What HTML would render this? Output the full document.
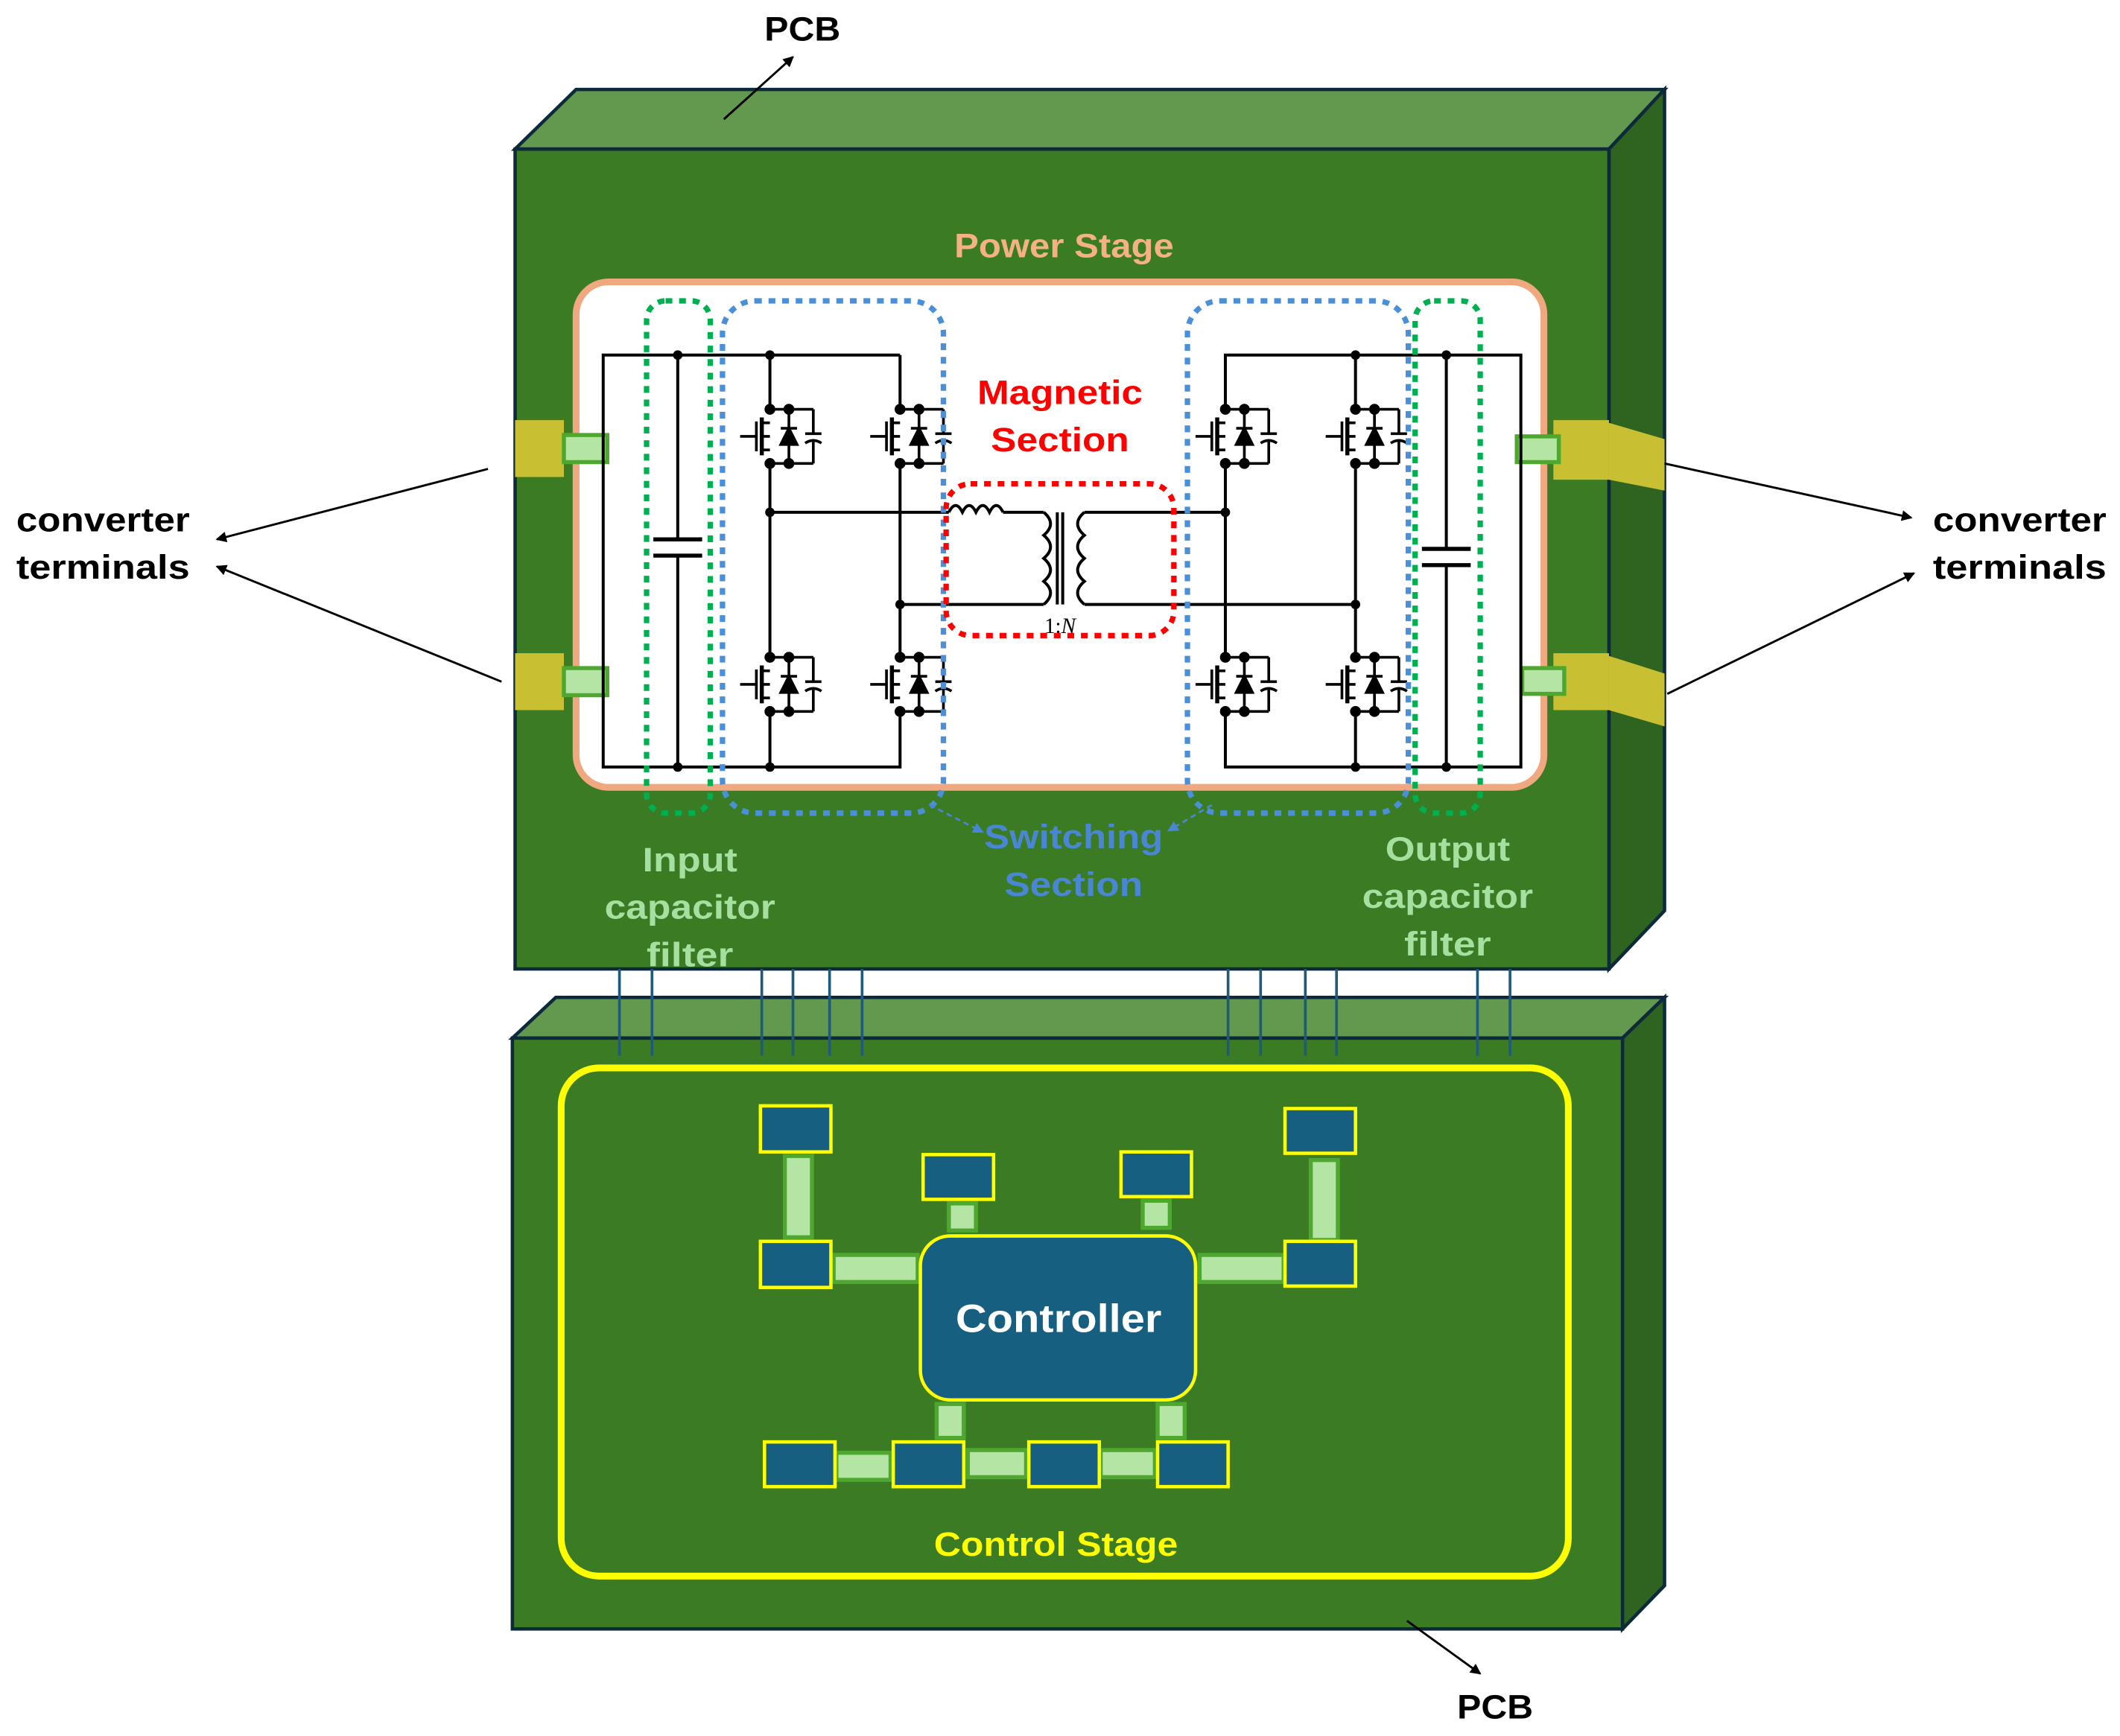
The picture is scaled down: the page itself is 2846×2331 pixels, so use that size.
<!DOCTYPE html>
<html><head><meta charset="utf-8"><style>
html,body{margin:0;padding:0;background:#fff}
svg{display:block}
text{font-family:"Liberation Sans",sans-serif;font-weight:bold}
</style></head><body>
<svg width="2846" height="2331" viewBox="0 0 1564 1281" xmlns="http://www.w3.org/2000/svg">
<defs>
<marker id="ah" markerWidth="8" markerHeight="8" refX="7" refY="4" orient="auto" markerUnits="userSpaceOnUse"><path d="M0,0 L8,4 L0,8 z" fill="#000"/></marker>
<marker id="ab" markerWidth="8" markerHeight="8" refX="7" refY="4" orient="auto" markerUnits="userSpaceOnUse"><path d="M0,0 L8,4 L0,8 z" fill="#4a86d6"/></marker>
<g id="mos" stroke="#000" stroke-width="2" fill="none">
<line x1="-22" y1="0" x2="-10" y2="0"/>
<line x1="-10" y1="-11" x2="-10" y2="11"/>
<line x1="-6" y1="-14" x2="-6" y2="14" stroke-width="3"/>
<line x1="-6" y1="-10" x2="0" y2="-10"/><line x1="-6" y1="10" x2="0" y2="10"/>
<line x1="-6" y1="0" x2="0" y2="0"/>
<line x1="0" y1="-20" x2="32" y2="-20"/><line x1="0" y1="20" x2="32" y2="20"/>
<line x1="14" y1="-20" x2="14" y2="20"/>
<path d="M8,6 L20,6 L14,-6 z" fill="#000"/><line x1="8" y1="-6" x2="20" y2="-6"/>
<line x1="32" y1="-20" x2="32" y2="-2"/><line x1="32" y1="4" x2="32" y2="20"/>
<line x1="26" y1="-2" x2="38" y2="-2"/><path d="M26,5 Q32,1 38,5"/>
<circle cx="0" cy="-20" r="3" fill="#000"/><circle cx="14" cy="-20" r="3" fill="#000"/>
<circle cx="0" cy="20" r="3" fill="#000"/><circle cx="14" cy="20" r="3" fill="#000"/>
</g>
</defs>

<!-- Top PCB -->
<polygon points="380,110 425,66 1228,66 1187,110" fill="#63984f" stroke="#0d2a3a" stroke-width="2.5"/>
<polygon points="1187,110 1228,66 1228,672 1187,715" fill="#2e6420" stroke="#0d2a3a" stroke-width="2.5"/>
<rect x="380" y="110" width="807" height="605" fill="#3b7b23" stroke="#0d2a3a" stroke-width="2.5"/>
<polygon points="1187,312 1228,324 1228,362 1187,354" fill="#c8c032"/>
<polygon points="1187,484 1228,497 1228,536 1187,524" fill="#c8c032"/>

<text x="785" y="190" font-size="25" fill="#f4b183" text-anchor="middle" textLength="162" lengthAdjust="spacingAndGlyphs">Power Stage</text>
<rect x="425" y="208" width="714" height="373" rx="24" fill="#fff" stroke="#f0a880" stroke-width="5"/>

<rect x="380" y="310" width="36" height="42" fill="#c8c032"/>
<rect x="380" y="482" width="36" height="42" fill="#c8c032"/>
<rect x="1146" y="310" width="41" height="44" fill="#c8c032"/>
<rect x="1146" y="482" width="41" height="42" fill="#c8c032"/>
<g fill="#b5e5a5" stroke="#4ea72e" stroke-width="3">
<rect x="416" y="321" width="32" height="20"/>
<rect x="416" y="493" width="32" height="20"/>
<rect x="1119" y="322" width="31" height="19"/>
<rect x="1123" y="493" width="31" height="19"/>
</g>

<g stroke="#000" stroke-width="2.2" fill="none">
<polyline points="664,262 445,262 445,566 664,566 664,525"/>
<line x1="664" y1="262" x2="664" y2="302"/>
<line x1="500" y1="262" x2="500" y2="398"/><line x1="500" y1="410" x2="500" y2="566"/>
<line x1="482" y1="398" x2="518" y2="398" stroke-width="3"/><line x1="482" y1="410" x2="518" y2="410" stroke-width="3"/>
<line x1="568" y1="262" x2="568" y2="302"/><line x1="568" y1="342" x2="568" y2="485"/><line x1="568" y1="525" x2="568" y2="566"/>
<line x1="664" y1="342" x2="664" y2="485"/>
<line x1="568" y1="378" x2="700" y2="378"/>
<line x1="664" y1="446" x2="770" y2="446"/>
<path d="M700,378 q5,-10 10,0 q5,-10 10,0 q5,-10 10,0 q5,-10 10,0"/>
<line x1="740" y1="378" x2="770" y2="378"/>
<path d="M770,378 q10,8.5 0,17 q10,8.5 0,17 q10,8.5 0,17 q10,8.5 0,17"/>
<line x1="780" y1="378" x2="780" y2="446"/><line x1="784" y1="378" x2="784" y2="446"/>
<path d="M800,378 q-10,8.5 0,17 q-10,8.5 0,17 q-10,8.5 0,17 q-10,8.5 0,17"/>
<line x1="800" y1="378" x2="904" y2="378"/>
<line x1="800" y1="446" x2="1000" y2="446"/>
<polyline points="904,302 904,262 1122,262 1122,566 904,566 904,525"/>
<line x1="1000" y1="262" x2="1000" y2="302"/><line x1="1000" y1="342" x2="1000" y2="485"/><line x1="1000" y1="525" x2="1000" y2="566"/>
<line x1="904" y1="342" x2="904" y2="485"/>
<line x1="1067" y1="262" x2="1067" y2="405"/><line x1="1067" y1="417" x2="1067" y2="566"/>
<line x1="1049" y1="405" x2="1085" y2="405" stroke-width="3"/><line x1="1049" y1="417" x2="1085" y2="417" stroke-width="3"/>
</g>
<g fill="#000">
<circle cx="500" cy="262" r="3.5"/><circle cx="500" cy="566" r="3.5"/>
<circle cx="568" cy="262" r="3.5"/><circle cx="568" cy="566" r="3.5"/><circle cx="568" cy="378" r="3.5"/>
<circle cx="664" cy="446" r="3.5"/><circle cx="904" cy="378" r="3.5"/><circle cx="1000" cy="446" r="3.5"/>
<circle cx="1000" cy="262" r="3.5"/><circle cx="1000" cy="566" r="3.5"/>
<circle cx="1067" cy="262" r="3.5"/><circle cx="1067" cy="566" r="3.5"/>
</g>
<use href="#mos" x="568" y="322"/><use href="#mos" x="664" y="322"/>
<use href="#mos" x="568" y="505"/><use href="#mos" x="664" y="505"/>
<use href="#mos" x="904" y="322"/><use href="#mos" x="1000" y="322"/>
<use href="#mos" x="904" y="505"/><use href="#mos" x="1000" y="505"/>
<text x="782" y="467" font-size="16" text-anchor="middle" style="font-family:'Liberation Serif',serif;font-weight:normal">1:<tspan font-style="italic">N</tspan></text>

<g fill="none" stroke-width="4" stroke-dasharray="5,5">
<rect x="477" y="222" width="47" height="378" rx="14" stroke="#00b050"/>
<rect x="1044" y="222" width="48" height="378" rx="14" stroke="#00b050"/>
<rect x="533" y="222" width="163" height="378" rx="24" stroke="#4a90d9"/>
<rect x="876" y="222" width="163" height="378" rx="24" stroke="#4a90d9"/>
<rect x="698" y="357" width="168" height="112" rx="18" stroke="#ff0000"/>
</g>
<line x1="686" y1="594" x2="725" y2="614" stroke="#4a86d6" stroke-width="1.5" stroke-dasharray="4,3" marker-end="url(#ab)"/>
<line x1="894" y1="594" x2="862" y2="613" stroke="#4a86d6" stroke-width="1.5" stroke-dasharray="4,3" marker-end="url(#ab)"/>

<text x="782" y="298" font-size="25" fill="#ff0000" text-anchor="middle" textLength="122" lengthAdjust="spacingAndGlyphs">Magnetic</text>
<text x="782" y="333" font-size="25" fill="#ff0000" text-anchor="middle" textLength="102" lengthAdjust="spacingAndGlyphs">Section</text>
<text x="792" y="626" font-size="25" fill="#4a86d6" text-anchor="middle" textLength="132" lengthAdjust="spacingAndGlyphs">Switching</text>
<text x="792" y="661" font-size="25" fill="#4a86d6" text-anchor="middle" textLength="102" lengthAdjust="spacingAndGlyphs">Section</text>
<g font-size="25" fill="#a6dfa0" text-anchor="middle">
<text x="509" y="643" textLength="70" lengthAdjust="spacingAndGlyphs">Input</text><text x="509" y="678" textLength="126" lengthAdjust="spacingAndGlyphs">capacitor</text><text x="509" y="713" textLength="64" lengthAdjust="spacingAndGlyphs">filter</text>
<text x="1068" y="635" textLength="92" lengthAdjust="spacingAndGlyphs">Output</text><text x="1068" y="670" textLength="126" lengthAdjust="spacingAndGlyphs">capacitor</text><text x="1068" y="705" textLength="64" lengthAdjust="spacingAndGlyphs">filter</text>
</g>

<!-- Bottom PCB -->
<polygon points="378,766 410,736 1228,736 1197,766" fill="#63984f" stroke="#0d2a3a" stroke-width="2.5"/>
<polygon points="1197,766 1228,736 1228,1170 1197,1202" fill="#2e6420" stroke="#0d2a3a" stroke-width="2.5"/>
<rect x="378" y="766" width="819" height="436" fill="#3b7b23" stroke="#0d2a3a" stroke-width="2.5"/>

<g stroke="#1f5a7a" stroke-width="2">
<line x1="457" y1="715" x2="457" y2="779"/><line x1="481" y1="715" x2="481" y2="779"/>
<line x1="562" y1="715" x2="562" y2="779"/><line x1="585" y1="715" x2="585" y2="779"/>
<line x1="612" y1="715" x2="612" y2="779"/><line x1="636" y1="715" x2="636" y2="779"/>
<line x1="906" y1="715" x2="906" y2="779"/><line x1="930" y1="715" x2="930" y2="779"/>
<line x1="963" y1="715" x2="963" y2="779"/><line x1="986" y1="715" x2="986" y2="779"/>
<line x1="1090" y1="715" x2="1090" y2="779"/><line x1="1114" y1="715" x2="1114" y2="779"/>
</g>

<rect x="414" y="788" width="743" height="375" rx="28" fill="none" stroke="#ffff00" stroke-width="5"/>
<text x="779" y="1148" font-size="25" fill="#ffff00" text-anchor="middle" textLength="180" lengthAdjust="spacingAndGlyphs">Control Stage</text>

<g fill="#b5e5a5" stroke="#4ea72e" stroke-width="3">
<rect x="579" y="853" width="20" height="60"/><rect x="967" y="856" width="20" height="59"/>
<rect x="615" y="926" width="62" height="20"/><rect x="885" y="926" width="62" height="20"/>
<rect x="700" y="888" width="20" height="20"/><rect x="843" y="886" width="20" height="20"/>
<rect x="691" y="1036" width="20" height="25"/><rect x="854" y="1036" width="20" height="25"/>
<rect x="617" y="1072" width="40" height="20"/><rect x="714" y="1070" width="43" height="20"/>
<rect x="812" y="1070" width="40" height="20"/>
</g>
<g fill="#175f80" stroke="#ffff00" stroke-width="2.5">
<rect x="561" y="816" width="52" height="34"/><rect x="561" y="916" width="52" height="34"/>
<rect x="681" y="852" width="52" height="33"/><rect x="827" y="850" width="52" height="33"/>
<rect x="948" y="818" width="52" height="33"/><rect x="948" y="916" width="52" height="33"/>
<rect x="564" y="1064" width="52" height="33"/><rect x="659" y="1064" width="52" height="33"/>
<rect x="759" y="1064" width="52" height="33"/><rect x="854" y="1064" width="52" height="33"/>
<rect x="679" y="912" width="203" height="121" rx="22"/>
</g>
<text x="781" y="983" font-size="29" fill="#fff" text-anchor="middle" textLength="152" lengthAdjust="spacingAndGlyphs">Controller</text>

<g font-size="25" fill="#000">
<text x="12" y="392" textLength="128" lengthAdjust="spacingAndGlyphs">converter</text><text x="12" y="427" textLength="128" lengthAdjust="spacingAndGlyphs">terminals</text>
<text x="1426" y="392" textLength="128" lengthAdjust="spacingAndGlyphs">converter</text><text x="1426" y="427" textLength="128" lengthAdjust="spacingAndGlyphs">terminals</text>
<text x="592" y="30" text-anchor="middle" textLength="56" lengthAdjust="spacingAndGlyphs">PCB</text>
<text x="1103" y="1268" text-anchor="middle" textLength="56" lengthAdjust="spacingAndGlyphs">PCB</text>
</g>
<g stroke="#000" stroke-width="1.6">
<line x1="360" y1="346" x2="160" y2="398" marker-end="url(#ah)"/>
<line x1="370" y1="503" x2="160" y2="418" marker-end="url(#ah)"/>
<line x1="1228" y1="342" x2="1410" y2="382" marker-end="url(#ah)"/>
<line x1="1230" y1="512" x2="1412" y2="423" marker-end="url(#ah)"/>
<line x1="534" y1="88" x2="585" y2="42" marker-end="url(#ah)"/>
<line x1="1038" y1="1196" x2="1092" y2="1235" marker-end="url(#ah)"/>
</g>
</svg>
</body></html>
